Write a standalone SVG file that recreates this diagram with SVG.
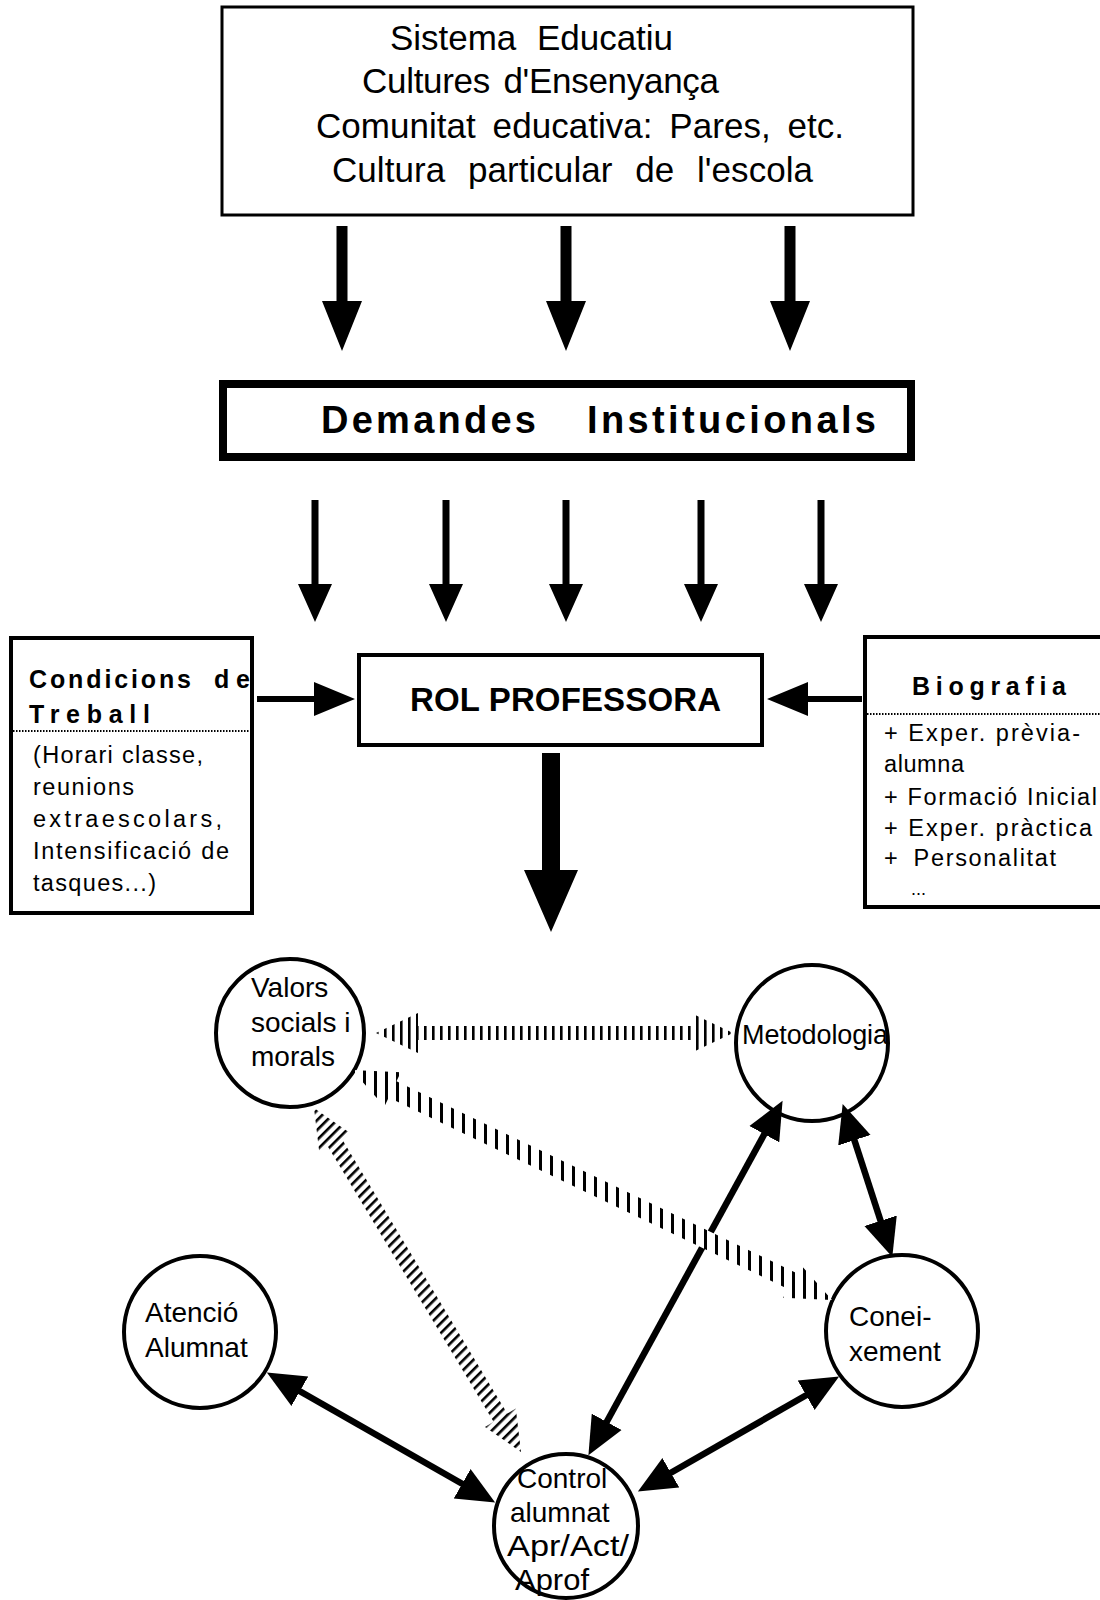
<svg xmlns="http://www.w3.org/2000/svg" width="1100" height="1600" viewBox="0 0 1100 1600">
<style>
.box{fill:#fff;stroke:#000}
.t{font-family:"Liberation Sans",Arial,sans-serif;fill:#000}
.b{font-weight:bold}
.dot{stroke:#000;stroke-width:2;stroke-dasharray:1.5 1.5;fill:none}
.sol{stroke:#000;stroke-width:6.5;fill:none;marker-start:url(#ah);marker-end:url(#ah)}
.circ{fill:#fff;stroke:#000;stroke-width:4}
</style>
<defs>
<marker id="ah" markerUnits="userSpaceOnUse" viewBox="0 -18 40 36" markerWidth="40" markerHeight="36" refX="1" refY="0" orient="auto-start-reverse">
<path d="M0,-17 L38,0 L0,17 Z" fill="#000"/>
</marker>
<pattern id="vs" patternUnits="userSpaceOnUse" width="8" height="8">
<rect width="8" height="8" fill="#fff"/>
<rect x="0" y="0" width="2.6" height="8" fill="#000"/>
</pattern>
<pattern id="vs2" patternUnits="userSpaceOnUse" width="11" height="8">
<rect width="11" height="8" fill="#fff"/>
<rect x="0" y="0" width="3" height="8" fill="#000"/>
</pattern>
<pattern id="ds" patternUnits="userSpaceOnUse" width="7" height="7" patternTransform="rotate(45)">
<rect width="7" height="7" fill="#fff"/>
<rect x="0" y="0" width="2.6" height="7" fill="#000"/>
</pattern>
</defs>
<rect width="1100" height="1600" fill="#fff"/>

<g id="sistema">
<rect class="box" x="222" y="7" width="691" height="208" stroke-width="3"/>
<text class="t" font-size="35" x="390" y="50" word-spacing="11" textLength="283">Sistema Educatiu</text>
<text class="t" font-size="35" x="362" y="93" word-spacing="4" textLength="357">Cultures d'Ensenyança</text>
<text class="t" font-size="35" x="316" y="138" word-spacing="7" textLength="528">Comunitat educativa: Pares, etc.</text>
<text class="t" font-size="35" x="332" y="182" word-spacing="13" textLength="481">Cultura particular de l'escola</text>
</g>

<g id="demandes">
<rect class="box" x="223" y="384" width="688" height="73" stroke-width="8"/>
<text class="t b" font-size="38" x="321" y="433" textLength="215">Demandes</text>
<text class="t b" font-size="38" x="587" y="433" textLength="289">Institucionals</text>
</g>

<g id="rol">
<rect class="box" x="359" y="655" width="403" height="90" stroke-width="4"/>
<text class="t b" font-size="33" x="410" y="711" textLength="311">ROL PROFESSORA</text>
</g>

<g id="condicions">
<rect class="box" x="11" y="638" width="241" height="275" stroke-width="4"/>
<text class="t b" font-size="25" x="29" y="688" textLength="162">Condicions</text>
<text class="t b" font-size="25" x="214" y="688" textLength="36">de</text>
<text class="t b" font-size="25" x="29" y="723" textLength="121">Treball</text>
<line class="dot" x1="13" y1="731" x2="250" y2="731"/>
<text class="t" font-size="23.5" x="33" y="763" textLength="170">(Horari classe,</text>
<text class="t" font-size="23.5" x="33" y="795" textLength="101">reunions</text>
<text class="t" font-size="23.5" x="33" y="827" textLength="189">extraescolars,</text>
<text class="t" font-size="23.5" x="33" y="859" textLength="196">Intensificació de</text>
<text class="t" font-size="23.5" x="33" y="891" textLength="123">tasques...)</text>
</g>

<g id="biografia">
<rect class="box" x="865" y="637" width="245" height="270" stroke-width="4"/>
<text class="t b" font-size="25" x="912" y="695" textLength="154">Biografia</text>
<line class="dot" x1="867" y1="714" x2="1100" y2="714"/>
<text class="t" font-size="23.5" x="884" y="741" textLength="196">+ Exper. prèvia-</text>
<text class="t" font-size="23.5" x="884" y="772" textLength="80">alumna</text>
<text class="t" font-size="23.5" x="884" y="805" textLength="213">+ Formació Inicial</text>
<text class="t" font-size="23.5" x="884" y="836" textLength="208">+ Exper. pràctica</text>
<text class="t" font-size="23.5" x="884" y="866" word-spacing="6" textLength="172">+ Personalitat</text>
<text class="t" font-size="18" x="911" y="895">...</text>
</g>

<g id="valors">
<circle class="circ" cx="290" cy="1033" r="74"/>
<text class="t" font-size="28" x="251" y="997">Valors</text>
<text class="t" font-size="28" x="251" y="1032">socials i</text>
<text class="t" font-size="28" x="251" y="1066">morals</text>
</g>

<g id="metodologia">
<ellipse class="circ" cx="812" cy="1043" rx="76" ry="78"/>
<text class="t" font-size="27" x="742" y="1044" textLength="146">Metodologia</text>
</g>

<g id="atencio">
<circle class="circ" cx="200" cy="1332" r="76"/>
<text class="t" font-size="28" x="145" y="1322">Atenció</text>
<text class="t" font-size="28" x="145" y="1357">Alumnat</text>
</g>

<g id="coneixement">
<circle class="circ" cx="902" cy="1331" r="76"/>
<text class="t" font-size="28" x="849" y="1326">Conei-</text>
<text class="t" font-size="28" x="849" y="1361">xement</text>
</g>

<g id="control">
<circle class="circ" cx="566" cy="1526" r="72"/>
<text class="t" font-size="28" x="517" y="1488">Control</text>
<text class="t" font-size="28" x="510" y="1522">alumnat</text>
<text class="t" font-size="29" x="507" y="1556" textLength="122" lengthAdjust="spacingAndGlyphs">Apr/Act/</text>
<text class="t" font-size="29" x="515" y="1590" textLength="74" lengthAdjust="spacingAndGlyphs">Aprof</text>
</g>

<g id="connectors">
<polygon fill="#000" points="336.5,226 347.5,226 347.5,301 362,301 342,351 322,301 336.5,301"/>
<polygon fill="#000" points="560.5,226 571.5,226 571.5,301 586,301 566,351 546,301 560.5,301"/>
<polygon fill="#000" points="784.5,226 795.5,226 795.5,301 810,301 790,351 770,301 784.5,301"/>

<polygon fill="#000" points="311.5,500 318.5,500 318.5,584 332,584 315,622 298,584 311.5,584"/>
<polygon fill="#000" points="442.5,500 449.5,500 449.5,584 463,584 446,622 429,584 442.5,584"/>
<polygon fill="#000" points="562.5,500 569.5,500 569.5,584 583,584 566,622 549,584 562.5,584"/>
<polygon fill="#000" points="697.5,500 704.5,500 704.5,584 718,584 701,622 684,584 697.5,584"/>
<polygon fill="#000" points="817.5,500 824.5,500 824.5,584 838,584 821,622 804,584 817.5,584"/>

<polygon fill="#000" points="257,696 314,696 314,682 355,699 314,716 314,702 257,702"/>
<polygon fill="#000" points="862,696 808,696 808,682 767,699 808,716 808,702 862,702"/>

<polygon fill="#000" points="542,753 560,753 560,870 578,870 551,932 524,870 542,870"/>

<line class="sol" x1="764.8" y1="1133.3" x2="606.2" y2="1422.7"/>
<line class="sol" x1="854.1" y1="1139.2" x2="880.9" y2="1221.8"/>
<line class="sol" x1="299" y1="1390.8" x2="463" y2="1484.2"/>
<line class="sol" x1="807" y1="1394.8" x2="670" y2="1473.2"/>

<polygon fill="url(#vs)" points="376,1033 418,1013 418,1026 691,1026 691,1013 733,1033 691,1053 691,1040 418,1040 418,1053"/>
<polygon fill="url(#vs2)" points="352,1070 384.4,1106.5 388.7,1097.5 787.5,1288.7 783.2,1297.7 832,1300 799.6,1263.5 795.3,1272.5 396.5,1081.3 400.8,1072.3"/>
<polygon fill="url(#ds)" points="314,1108 319.2,1151.6 327.8,1146.4 493.6,1421.8 485,1427 521,1452 515.8,1408.4 507.3,1413.6 341.5,1138.2 350,1133"/>
</g>
</svg>
